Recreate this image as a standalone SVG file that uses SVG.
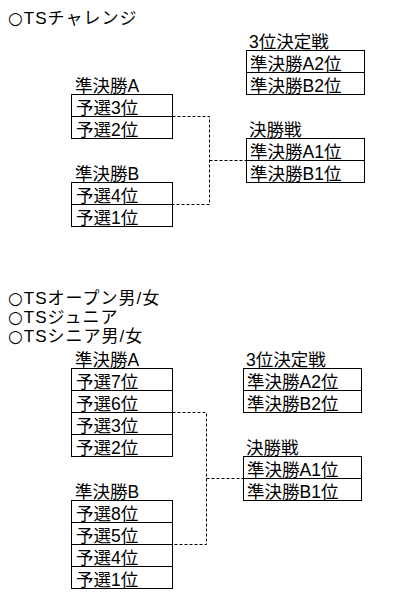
<svg xmlns="http://www.w3.org/2000/svg" width="419" height="607" viewBox="0 0 419 607">
<style>
text{font-family:"Liberation Sans","Noto Sans CJK JP",sans-serif;font-size:17.5px;fill:#000}
.t{font-size:17px;letter-spacing:1px}
.c{font-family:"DejaVu Sans","Noto Sans CJK JP",sans-serif}
.box{fill:#fff;stroke:#000;stroke-width:1}
.div{stroke:#000;stroke-width:1}
.conn{fill:none;stroke:#000;stroke-width:1;stroke-dasharray:3,2}
</style>
<rect width="419" height="607" fill="#fff"/>
<g id="titles">
<text class="t" x="8" y="24"><tspan class="c">○</tspan>TSチャレンジ</text>
<text class="t" x="8" y="303.5"><tspan class="c">○</tspan>TSオープン男/女</text>
<text class="t" x="8" y="322.5"><tspan class="c">○</tspan>TSジュニア</text>
<text class="t" x="8" y="341.5"><tspan class="c">○</tspan>TSシニア男/女</text>
</g>
<g id="connectors">
<path class="conn" d="M172.5 116.5H209.5V204.5H172.5M209.5 160.5H246.5"/>
<path class="conn" d="M172.5 412.5H206.5V544.5H172.5M206.5 478.5H243.5"/>
</g>
<g id="c-semiA">
<rect class="box" x="71.5" y="94.5" width="101" height="44"/>
<line class="div" x1="71.5" y1="116.5" x2="172.5" y2="116.5"/>
<text x="75" y="92">準決勝A</text>
<text x="76" y="114">予選3位</text>
<text x="76" y="136">予選2位</text>
</g>
<g id="c-semiB">
<rect class="box" x="71.5" y="182.5" width="101" height="44"/>
<line class="div" x1="71.5" y1="204.5" x2="172.5" y2="204.5"/>
<text x="75" y="180">準決勝B</text>
<text x="76" y="202">予選4位</text>
<text x="76" y="224">予選1位</text>
</g>
<g id="c-third">
<rect class="box" x="246.5" y="50.5" width="118" height="44"/>
<line class="div" x1="246.5" y1="72.5" x2="364.5" y2="72.5"/>
<text x="249" y="48">3位決定戦</text>
<text x="250" y="70">準決勝A2位</text>
<text x="250" y="92">準決勝B2位</text>
</g>
<g id="c-final">
<rect class="box" x="246.5" y="138.5" width="118" height="44"/>
<line class="div" x1="246.5" y1="160.5" x2="364.5" y2="160.5"/>
<text x="249" y="136">決勝戦</text>
<text x="250" y="158">準決勝A1位</text>
<text x="250" y="180">準決勝B1位</text>
</g>
<g id="o-semiA">
<rect class="box" x="71.5" y="368.5" width="101" height="88"/>
<line class="div" x1="71.5" y1="390.5" x2="172.5" y2="390.5"/>
<line class="div" x1="71.5" y1="412.5" x2="172.5" y2="412.5"/>
<line class="div" x1="71.5" y1="434.5" x2="172.5" y2="434.5"/>
<text x="75" y="366">準決勝A</text>
<text x="76" y="388">予選7位</text>
<text x="76" y="410">予選6位</text>
<text x="76" y="432">予選3位</text>
<text x="76" y="454">予選2位</text>
</g>
<g id="o-semiB">
<rect class="box" x="71.5" y="500.5" width="101" height="88"/>
<line class="div" x1="71.5" y1="522.5" x2="172.5" y2="522.5"/>
<line class="div" x1="71.5" y1="544.5" x2="172.5" y2="544.5"/>
<line class="div" x1="71.5" y1="566.5" x2="172.5" y2="566.5"/>
<text x="75" y="498">準決勝B</text>
<text x="76" y="520">予選8位</text>
<text x="76" y="542">予選5位</text>
<text x="76" y="564">予選4位</text>
<text x="76" y="586">予選1位</text>
</g>
<g id="o-third">
<rect class="box" x="243.5" y="368.5" width="118" height="44"/>
<line class="div" x1="243.5" y1="390.5" x2="361.5" y2="390.5"/>
<text x="246" y="366">3位決定戦</text>
<text x="247" y="388">準決勝A2位</text>
<text x="247" y="410">準決勝B2位</text>
</g>
<g id="o-final">
<rect class="box" x="243.5" y="456.5" width="118" height="44"/>
<line class="div" x1="243.5" y1="478.5" x2="361.5" y2="478.5"/>
<text x="246" y="454">決勝戦</text>
<text x="247" y="476">準決勝A1位</text>
<text x="247" y="498">準決勝B1位</text>
</g>
</svg>
